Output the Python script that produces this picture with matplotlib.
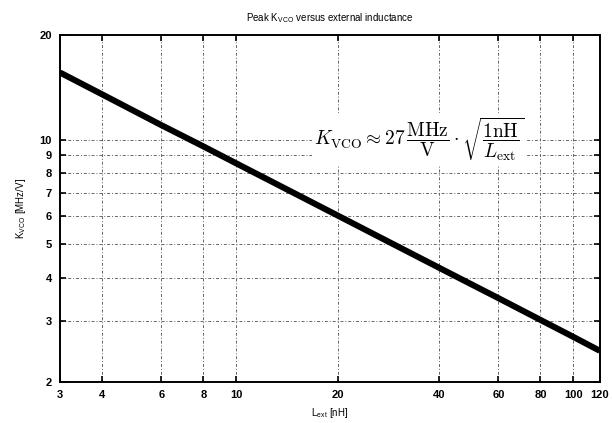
import matplotlib
matplotlib.use("Agg")
import matplotlib.pyplot as plt
from matplotlib.ticker import FixedLocator, NullLocator, FixedFormatter

# values
l_ext = [3, 4, 6, 8, 10, 20, 40, 60, 80, 100, 120]
k_vco = [15.6, 13.5, 11.0, 9.55, 8.54, 6.04, 4.27, 3.49, 3.02, 2.7, 2.46]

x_ticks = [3, 4, 6, 8, 10, 20, 40, 60, 80, 100, 120]
y_ticks = [2, 3, 4, 5, 6, 7, 8, 9, 10, 20]

plt.rcParams["font.family"] = ["Liberation Sans", "DejaVu Sans"]
plt.rcParams["mathtext.fontset"] = "cm"

fig = plt.figure(figsize=(6.12, 4.23), dpi=100)
ax = fig.add_axes([0.098, 0.097, 0.882, 0.820])

ax.plot(l_ext, k_vco, color="black", linewidth=4.4, solid_capstyle="butt")

ax.set_xscale("log")
ax.set_yscale("log")
ax.set_xlim(3, 120)
ax.set_ylim(2, 20)

ax.xaxis.set_major_locator(FixedLocator(x_ticks))
ax.xaxis.set_major_formatter(FixedFormatter([str(v) for v in x_ticks]))
ax.xaxis.set_minor_locator(NullLocator())
ax.yaxis.set_major_locator(FixedLocator(y_ticks))
ax.yaxis.set_major_formatter(FixedFormatter([str(v) for v in y_ticks]))
ax.yaxis.set_minor_locator(NullLocator())

ax.tick_params(which="major", direction="in", length=4, width=1.2,
               top=True, right=True, labelsize=8, pad=6)
for lab in ax.get_xticklabels() + ax.get_yticklabels():
    lab.set_fontweight("bold")

ax.grid(True, which="major", color="#666666", linewidth=0.7,
        linestyle=(0, (3, 2, 1, 2)))

for sp in ax.spines.values():
    sp.set_linewidth(1.4)

ax.set_title(r"Peak K$_\mathregular{VCO}$ versus external inductance",
             fontsize=7, pad=10)
ax.set_xlabel(r"L$_\mathregular{ext}$ [nH]", fontsize=7, labelpad=4)
ax.set_ylabel(r"K$_\mathregular{VCO}$ [MHz/V]", fontsize=7, labelpad=8)

ax.text(35, 10.0,
        r"$K_{\mathrm{VCO}} \approx 27\,\dfrac{\mathrm{MHz}}{\mathrm{V}}\cdot\sqrt{\dfrac{\mathrm{1nH}}{L_{\mathrm{ext}}}}$",
        fontsize=14, ha="center", va="center", zorder=5,
        bbox=dict(facecolor="white", edgecolor="none", pad=2))

fig.savefig("out.png", dpi=100)
